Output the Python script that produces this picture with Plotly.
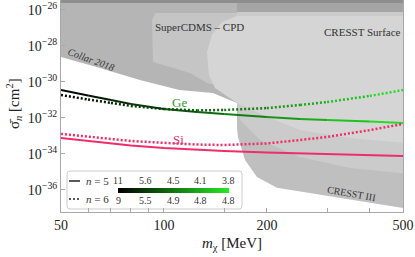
import plotly.graph_objects as go
import plotly.colors as pc
import math

# ---------------- data ----------------
mass = [50, 60, 70, 80, 100, 125, 150, 200, 250, 300, 400, 500]          # MeV
ge_n5 = [3.5e-31, 1.74e-31, 9.8e-32, 5.9e-32, 3.1e-32, 2.1e-32, 1.66e-32, 1.12e-32, 8.7e-33, 7.6e-33, 6.3e-33, 5.2e-33]
ge_n6 = [1.86e-31, 1.05e-31, 6.8e-32, 4.6e-32, 3.1e-32, 2.6e-32, 2.75e-32, 3.5e-32, 5.2e-32, 7.6e-32, 1.66e-31, 3.5e-31]
si_n5 = [7.6e-34, 5.2e-34, 3.8e-34, 2.95e-34, 2.1e-34, 1.66e-34, 1.45e-34, 1.2e-34, 1.05e-34, 9.8e-35, 8.7e-35, 7.6e-35]
si_n6 = [1.29e-33, 9.3e-34, 6.8e-34, 5.2e-34, 4.1e-34, 3.3e-34, 3.1e-34, 3.8e-34, 5.9e-34, 8.7e-34, 2.1e-33, 4.6e-33]

# exclusion regions (boundaries)
cresst3_m = [163.5, 560, 560, 500, 312, 250, 214, 187, 172.6, 164.6, 163.5]
cresst3_s = [1e-25, 1e-25, 9e-38, 9.8e-38, 4.1e-37, 7.6e-37, 1.29e-36, 5.2e-36, 4.6e-35, 8.7e-34, 2.75e-33]
cresst3b_m = [163.5, 560, 560, 350, 250, 191, 167, 163.5]
cresst3b_s = [1e-25, 1e-25, 6.8e-36, 1.66e-35, 6.8e-35, 5.9e-34, 7.6e-33, 6.8e-32]
collar_m = [45, 163.5, 163.5, 139, 111, 85, 65, 50, 45]
collar_s = [1e-25, 1e-25, 6.8e-32, 2.4e-31, 3.5e-31, 1.29e-30, 5.9e-30, 2.4e-29, 3.0e-29]
cdms_m = [94.2, 163.5, 163.5, 133.6, 119.2, 92.9, 92.3]
cdms_s = [6.8e-27, 6.8e-27, 3.5e-31, 8.7e-31, 3.1e-30, 1.29e-29, 2.75e-27]
surface_m = [163.5, 560, 560, 500, 350, 250, 204, 163.5, 141, 135.4, 133.6, 138.2, 147.8]
surface_s = [4.6e-27, 4.6e-27, 4.1e-34, 4.1e-34, 7.6e-34, 2.1e-33, 9.8e-33, 6.8e-32, 4.6e-31, 2.4e-30, 4.6e-29, 4.1e-28, 2.1e-27]
topband_m = [163.5, 560, 560, 163.5]
topband_s = [1e-25, 1e-25, 7.6e-27, 7.6e-27]
topstrip_m = [45, 560, 560, 45]
topstrip_s = [1e-25, 1e-25, 2.4e-26, 2.4e-26]

x_tickvals = [50, 60, 70, 80, 90, 100, 150, 200, 300, 400, 500]
x_ticktext = ["50", "", "", "", "", "100", "", "200", "", "", "500"]
y_exps = [-26, -28, -30, -32, -34, -36]

cbar_top = ["11", "5.6", "4.5", "4.1", "3.8"]
cbar_bottom = ["9", "5.5", "4.9", "4.8", "4.8"]

# ---------------- figure ----------------
W, H = 415, 257
L, R, T, B = 61, 12, 0, 45
PW, PH = W - L - R, H - T - B
FONT = "'Liberation Serif', 'DejaVu Serif', serif"


def P(px, py):
    return (px - L) / PW, (T + PH - py) / PH


fig = go.Figure()


def region(m, s, color):
    fig.add_trace(go.Scatter(x=m, y=s, mode="lines", fill="toself", fillcolor=color,
                             line=dict(width=0, color=color), hoverinfo="skip", showlegend=False))


region(cresst3_m, cresst3_s, "#bfbfbf")
region(cresst3b_m, cresst3b_s, "#cbcbcb")
region(collar_m, collar_s, "#b5b5b5")
region(cdms_m, cdms_s, "#c5c5c5")
region(surface_m, surface_s, "#d5d5d5")
region(topband_m, topband_s, "#a5a5a5")
region(topstrip_m, topstrip_s, "#8e8e8e")

green_scale = [[0, "#000000"], [1, "#25e825"]]


def gradient_line(m, s, dash, width):
    lo, hi = math.log10(50), math.log10(500)
    for i in range(len(m) - 1):
        f = ((math.log10(m[i]) + math.log10(m[i + 1])) / 2 - lo) / (hi - lo)
        col = pc.sample_colorscale(green_scale, [f])[0]
        fig.add_trace(go.Scatter(x=m[i:i + 2], y=s[i:i + 2], mode="lines",
                                 line=dict(color=col, width=width, dash=dash),
                                 hoverinfo="skip", showlegend=False))


gradient_line(mass, ge_n5, "solid", 2)
gradient_line(mass, ge_n6, "2px,2px", 2.5)

SI = "#ef2d69"
fig.add_trace(go.Scatter(x=mass, y=si_n5, mode="lines", line=dict(color=SI, width=2),
                         hoverinfo="skip", showlegend=False))
fig.add_trace(go.Scatter(x=mass, y=si_n6, mode="lines", line=dict(color=SI, width=2.5, dash="2px,2px"),
                         hoverinfo="skip", showlegend=False))

# colour bar inside the legend box
fig.add_trace(go.Heatmap(z=[list(range(64))], colorscale=green_scale, showscale=False,
                         xaxis="x2", yaxis="y2", hoverinfo="skip"))

axis_col = "#a8a8a8"
fig.update_layout(
    width=W, height=H,
    margin=dict(l=L, r=R, t=T, b=B),
    paper_bgcolor="white", plot_bgcolor="white",
    font=dict(family=FONT, size=13, color="#222"),
    xaxis=dict(type="log", range=[math.log10(50), math.log10(500)],
               tickvals=x_tickvals, ticktext=x_ticktext,
               ticks="inside", ticklen=4, tickcolor=axis_col,
               showline=True, linecolor=axis_col, linewidth=1, mirror=True,
               showgrid=False, zeroline=False, tickfont=dict(size=14, family=FONT),
               ticklabeloverflow="allow"),
    yaxis=dict(type="log", range=[-37.23, -25.45],
               tickvals=[10.0 ** e for e in y_exps],
               ticktext=["10<sup>\u2212%d</sup>" % (-e) for e in y_exps],
               ticks="inside", ticklen=4, tickcolor=axis_col,
               showline=True, linecolor=axis_col, linewidth=1, mirror=True,
               showgrid=False, zeroline=False, tickfont=dict(size=14, family=FONT),
               ticklabeloverflow="allow"),
    xaxis2=dict(domain=[P(118, 0)[0], P(229, 0)[0]], anchor="y2", visible=False,
                range=[-0.5, 63.5], fixedrange=True),
    yaxis2=dict(domain=[P(0, 193)[1], P(0, 188)[1]], anchor="x2", visible=False,
                range=[-0.5, 0.5], fixedrange=True),
)

# legend box (rounded)
x0, y0 = P(67, 209)
x1, y1 = P(242, 171)
rx, ry = 3 / PW, 3 / PH
path = (f"M {x0+rx},{y0} L {x1-rx},{y0} Q {x1},{y0} {x1},{y0+ry} L {x1},{y1-ry} "
        f"Q {x1},{y1} {x1-rx},{y1} L {x0+rx},{y1} Q {x0},{y1} {x0},{y1-ry} "
        f"L {x0},{y0+ry} Q {x0},{y0} {x0+rx},{y0} Z")
fig.add_shape(type="path", path=path, xref="paper", yref="paper", layer="below",
              fillcolor="white", line=dict(color="#cccccc", width=1))
a0, b0 = P(69, 181)
a1, _ = P(80, 181)
fig.add_shape(type="line", x0=a0, x1=a1, y0=b0, y1=b0, xref="paper", yref="paper",
              line=dict(color="#222", width=1.5))
a0, b0 = P(69, 199)
fig.add_shape(type="line", x0=a0, x1=a1, y0=b0, y1=b0, xref="paper", yref="paper",
              line=dict(color="#222", width=1.5, dash="2px,2px"))


def text(s, px, py, size=11, color="#333", angle=0, xanchor="center"):
    x, y = P(px, py)
    fig.add_annotation(text=s, x=x, y=y, xref="paper", yref="paper", showarrow=False,
                       xanchor=xanchor, yanchor="middle", textangle=angle,
                       font=dict(family=FONT, size=size, color=color))


text("<i>n</i> = 5", 84, 181, size=11, color="#333", xanchor="left")
text("<i>n</i> = 6", 84, 199, size=11, color="#333", xanchor="left")
cb_x = [118, 145.5, 173, 200.5, 228]
for lab, px in zip(cbar_top, cb_x):
    text(lab, px, 180, size=10, color="#333")
for lab, px in zip(cbar_bottom, cb_x):
    text(lab, px, 200, size=10, color="#333")

text("<i>Collar 2018</i>", 91, 59, size=10, color="#333", angle=20)
text("SuperCDMS \u2013 CPD", 199, 27, size=11, color="#333")
text("CRESST Surface", 403, 32, size=11, color="#333", xanchor="right")
text("CRESST III", 351, 193, size=10, color="#333", angle=10)
text("Ge", 179, 102, size=13, color="#2e9e2e")
text("Si", 178, 139, size=13, color="#e8306e")

text("\u03c3\u0304<sub><i>n</i></sub> [cm<sup>2</sup>]", 14, 104, size=15, color="#222", angle=-90)
text("<i>m</i><sub>\u03c7</sub> [MeV]", 232, 244, size=15, color="#222")

fig.write_html("out.html", config={"displayModeBar": False},
               post_script="document.body.style.margin='0';")
